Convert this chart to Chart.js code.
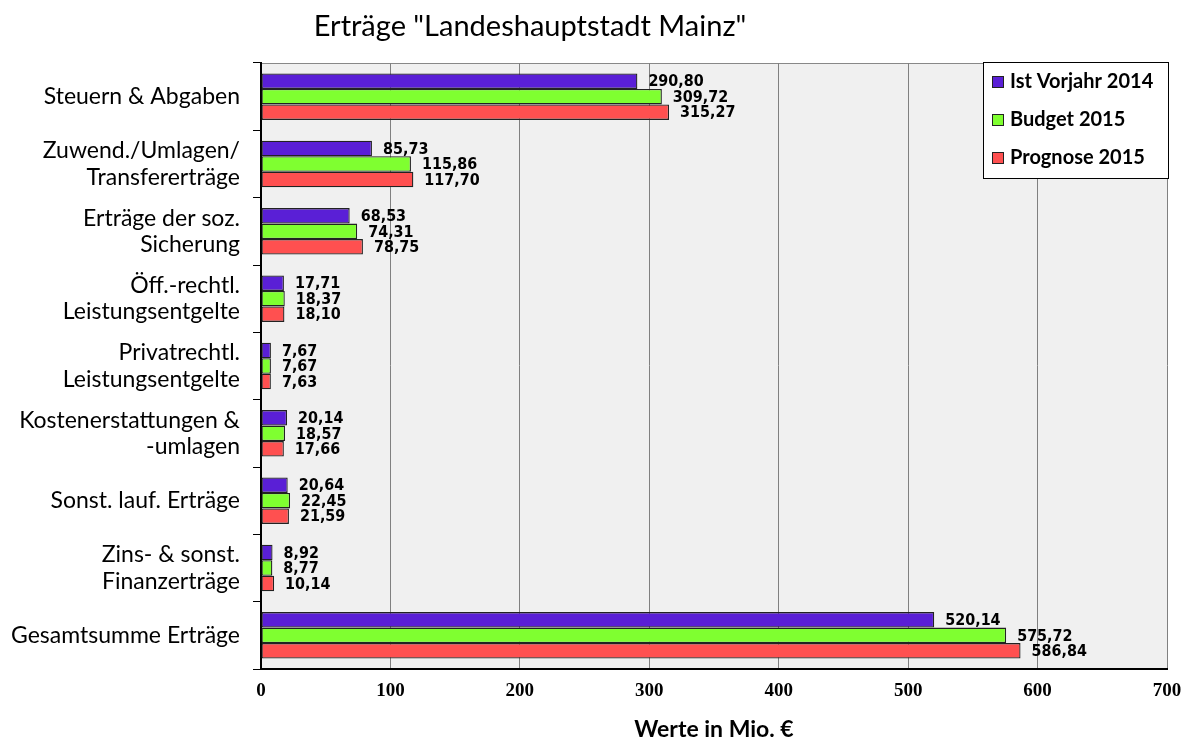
<!DOCTYPE html>
<html>
<head>
<meta charset="utf-8">
<script src="https://cdn.jsdelivr.net/npm/chart.js@4"></script>
<style>
  html, body { margin: 0; padding: 0; background: #fff; }
  #wrap { width: 1183px; height: 747px; }
</style>
</head>
<body>
<div id="wrap"><canvas id="myChart" width="1183" height="747"></canvas></div>
<script>
//  chart data
let categories = [
    ['Steuern & Abgaben'],
    ['Zuwend./Umlagen/', 'Transfererträge'],
    ['Erträge der soz.', 'Sicherung'],
    ['Öff.-rechtl.', 'Leistungsentgelte'],
    ['Privatrechtl.', 'Leistungsentgelte'],
    ['Kostenerstattungen &', '-umlagen'],
    ['Sonst. lauf. Erträge'],
    ['Zins- & sonst.', 'Finanzerträge'],
    ['Gesamtsumme Erträge']
]
let ist2014 = [290.80, 85.73, 68.53, 17.71, 7.67, 20.14, 20.64, 8.92, 520.14]
let budget2015 = [309.72, 115.86, 74.31, 18.37, 7.67, 18.57, 22.45, 8.77, 575.72]
let prognose2015 = [315.27, 117.70, 78.75, 18.10, 7.63, 17.66, 21.59, 10.14, 586.84]
let seriesNames = ['Ist Vorjahr 2014', 'Budget 2015', 'Prognose 2015']
let colors = ['#5a1fd6', '#7fff30', '#ff5050']
let xTicks = [0, 100, 200, 300, 400, 500, 600, 700]

function fmt(v) {
    return v.toFixed(2).replace('.', ',')
}

//  grey plot background + top border
const plotBg = {
    id: 'plotBg',
    beforeDraw(chart) {
        const { ctx, chartArea: a } = chart
        ctx.save()
        ctx.fillStyle = '#f0f0f0'
        ctx.fillRect(a.left, a.top, a.right - a.left, a.bottom - a.top)
        ctx.strokeStyle = '#888'
        ctx.lineWidth = 1
        ctx.beginPath()
        ctx.moveTo(a.left, a.top + 0.5)
        ctx.lineTo(a.right, a.top + 0.5)
        ctx.stroke()
        ctx.restore()
    }
}

//  value labels, title and boxed legend
const extras = {
    id: 'extras',
    afterDraw(chart) {
        const ctx = chart.ctx
        ctx.save()
        ctx.font = 'bold 16.5px "DejaVu Sans"'
        ctx.fillStyle = '#000'
        ctx.textBaseline = 'middle'
        ctx.textAlign = 'left'
        chart.data.datasets.forEach((ds, di) => {
            chart.getDatasetMeta(di).data.forEach((bar, i) => {
                // slightly condensed numbers
                ctx.save()
                ctx.translate(bar.x + 11, bar.y + 1)
                ctx.scale(0.87, 1)
                ctx.fillText(fmt(ds.data[i]), 0, 0)
                ctx.restore()
            })
        })

        // title
        ctx.font = 'normal 29px Lato'
        ctx.textAlign = 'center'
        ctx.textBaseline = 'middle'
        ctx.fillStyle = '#000'
        ctx.fillText('Erträge "Landeshauptstadt Mainz"', 530, 27)

        // legend
        const lx = 983, ly = 62, lw = 185, lh = 116
        ctx.fillStyle = '#fff'
        ctx.fillRect(lx, ly, lw, lh)
        ctx.strokeStyle = '#000'
        ctx.lineWidth = 1
        ctx.strokeRect(lx + 0.5, ly + 0.5, lw, lh)
        ctx.font = 'bold 20px Lato'
        ctx.textAlign = 'left'
        seriesNames.forEach((name, k) => {
            const y = ly + 20 + k * 38
            ctx.fillStyle = colors[k]
            ctx.fillRect(lx + 9, y - 6, 12, 12)
            ctx.strokeStyle = '#222'
            ctx.strokeRect(lx + 9.5, y - 5.5, 11, 11)
            ctx.fillStyle = '#000'
            ctx.fillText(name, lx + 27, y)
        })
        ctx.restore()
    }
}

const ctx = document.getElementById('myChart')

new Chart(ctx, {
    type: 'bar',
    data: {
        labels: categories,
        datasets: [ist2014, budget2015, prognose2015].map((d, k) => ({
            label: seriesNames[k],
            data: d,
            backgroundColor: colors[k],
            borderColor: '#222',
            borderWidth: 1.3,
            borderSkipped: false,
            categoryPercentage: 0.69,
            barPercentage: 1.0
        }))
    },
    options: {
        indexAxis: 'y',
        responsive: false,
        animation: false,
        layout: { padding: { top: 63, right: 0, left: 0, bottom: 0 } },
        plugins: {
            legend: { display: false },
            tooltip: { enabled: false },
            title: { display: false }
        },
        scales: {
            x: {
                min: 0,
                max: 700,
                afterBuildTicks(scale) {
                    scale.ticks = xTicks.map(v => ({ value: v }))
                },
                afterFit(scale) {
                    scale.height = 747 - 669
                    scale.paddingRight = 16
                },
                grid: { color: '#808080', drawTicks: false },
                border: { color: '#000', width: 2 },
                ticks: {
                    padding: 11,
                    color: '#000',
                    font: { family: '"Liberation Serif"', size: 19, weight: 'bold' }
                },
                title: {
                    display: true,
                    text: 'Werte in Mio. €',
                    color: '#000',
                    padding: { top: 14 },
                    font: { family: 'Lato', size: 23, weight: 'bold' }
                }
            },
            y: {
                afterFit(scale) { scale.width = 261 },
                grid: {
                    offset: true,
                    drawOnChartArea: false,
                    tickLength: 8,
                    color: '#000'
                },
                border: { color: '#000', width: 2 },
                ticks: {
                    padding: 13,
                    color: '#000',
                    font: { family: 'Lato', size: 23, lineHeight: 1.15 }
                }
            }
        }
    },
    plugins: [plotBg, extras]
})
</script>
</body>
</html>
